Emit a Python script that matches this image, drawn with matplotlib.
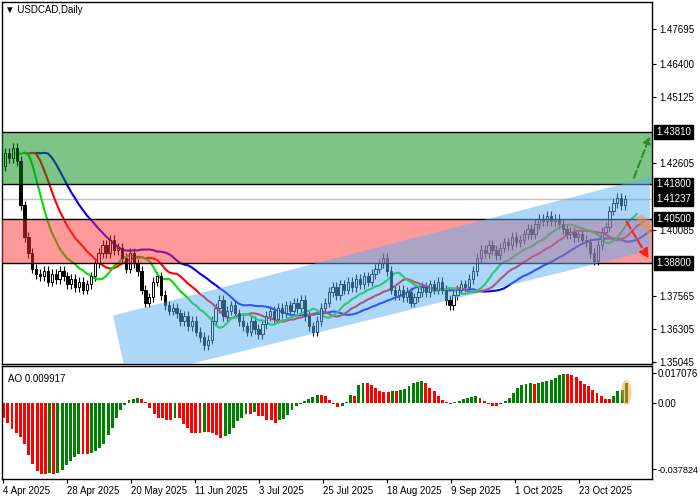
import numpy as np
import pandas as pd
import matplotlib
matplotlib.use("Agg")
import matplotlib.pyplot as plt
from matplotlib.patches import Polygon, Ellipse, Rectangle

plt.rcParams['font.family'] = ['Liberation Sans', 'DejaVu Sans']

closes = [1.430,1.428,1.432,1.427,1.410,
          1.398,1.392,1.386,1.384,
          1.383,1.385,1.381,1.384,1.382,1.385,
          1.383,1.380,1.382,1.379,1.381,1.378,
          1.380,1.383,1.388,1.392,
          1.395,1.392,1.397,1.393,1.394,1.390,
          1.386,1.392,1.388,1.385,1.378,
          1.373,1.375,1.381,1.383,
          1.376,1.372,1.370,1.371,1.369,1.366,
          1.368,1.364,1.366,1.362,1.360,
          1.357,1.359,1.366,
          1.371,1.374,1.368,1.370,1.372,
          1.369,1.366,1.364,1.362,1.366,1.363,
          1.361,1.365,1.368,1.370,1.367,1.371,
          1.369,1.372,1.370,1.373,1.371,1.374,
          1.368,1.364,1.362,1.366,
          1.371,1.373,1.377,1.379,1.376,1.380,
          1.378,1.381,1.379,1.382,1.380,1.383,
          1.381,1.384,1.386,1.388,
          1.390,1.385,1.378,1.376,
          1.378,1.375,1.377,1.373,1.375,1.377,
          1.379,1.377,1.380,1.378,1.381,1.378,
          1.374,1.372,1.376,1.378,1.380,
          1.379,1.382,1.385,1.390,1.393,
          1.392,1.395,1.393,1.391,1.394,1.396,
          1.395,1.398,1.396,1.397,1.399,
          1.401,1.399,1.403,1.405,1.404,
          1.406,1.404,1.405,1.403,1.401,
          1.399,1.400,1.398,1.399,1.397,
          1.396,1.392,1.389,1.395,
          1.400,1.402,1.408,1.411,
          1.413,1.410,1.41237]
first_open = 1.425
wick = 0.0018

ao_values = [-14.7,-20,-26,-30,-34,-41,-52,-61,-68,-71,-71,-70,-71,-70,-67,-62,-58,-54,-51,-51,
             -51,-50,-48,-45,-41,-32,-25,-15,-7,-2,3,4,5,4,1,-5,-11,-15,-15,-17,
             -17,-15,-15,-21,-25,-30,-30,-30,-29,-29,-30,-32,-35,-33,-31,-25,-18,-15,-11,-11,
             -9,-13,-13,-17,-17,-20,-17,-16,-12,-7,-3,-1,2,4,6,8,8,7,3,-1,
             -4,-3,1,8,7,18,20,20,18,15,12,11,11,12,12,13,14,17,20,21,
             22,20,15,12,7,3,1,-1,1,2,4,5,6,7,5,2,-1,-3,-3,-1,
             2,5,10,15,18,19,20,19,20,21,22,23,25,28,29,29,28,26,22,19,
             17,13,10,7,4,4,7,12,13,20]
ao_scale = 0.017076 / 30.0  # indicator units per reference pixel

levels_box = [1.43810, 1.41800, 1.41237, 1.40500, 1.38800]
plain_ticks = [1.47695, 1.46400, 1.45125, 1.42605, 1.40085, 1.37565, 1.36305, 1.35045]
date_labels = ["4 Apr 2025","28 Apr 2025","20 May 2025","11 Jun 2025","3 Jul 2025",
               "25 Jul 2025","18 Aug 2025","9 Sep 2025","1 Oct 2025","23 Oct 2025"]
date_idx = [-0.5, 15.9, 32.3, 48.7, 65.1, 81.5, 98.0, 114.4, 130.8, 147.2]

W, H = 700, 500
fig = plt.figure(figsize=(7, 5), dpi=100)
def ax_rect(x0, y0, x1, y1):
    return [x0 / W, 1 - y1 / H, (x1 - x0) / W, (y1 - y0) / H]
ax = fig.add_axes(ax_rect(2, 2, 652, 364))
ax2 = fig.add_axes(ax_rect(2, 366, 652, 479))
xlim = (-0.77, 165.9)

c = np.array(closes)
n = len(c)
o = np.concatenate([[first_open], c[:-1]])
hi = np.maximum(o, c) + wick
lo = np.minimum(o, c) - wick
idx = np.arange(n)
ax.vlines(idx, lo, hi, color="black", lw=0.8, zorder=2)
for i in range(n):
    up = c[i] >= o[i]
    bh = max(abs(c[i] - o[i]), 0.0003)
    ax.add_patch(Rectangle((i - 0.3, min(o[i], c[i])), 0.6, bh,
                           facecolor="white" if up else "black", edgecolor="black",
                           lw=0.7, zorder=2.5))

s = pd.Series(c)
for period, shift, col in [(13, 8, "#0000ff"), (8, 5, "#ff0000"), (5, 3, "#00e000")]:
    m = s.ewm(alpha=1 / period, adjust=False).mean().values
    ax.plot(idx + shift, m, color=col, lw=1.5, zorder=2.2)

ax.axhspan(1.4180, 1.4381, color="#008a10", alpha=0.5, lw=0, zorder=3)
ax.axhspan(1.3880, 1.4050, color="#ff3333", alpha=0.5, lw=0, zorder=3)
for lv in [1.4381, 1.4180, 1.4050, 1.3880]:
    ax.axhline(lv, color="black", lw=1, zorder=3.2)
ax.axhline(1.41237, color="#c0c0c0", lw=1, zorder=1)

ax.add_patch(Polygon([(27.7, 1.3681), (165.4, 1.4208), (165.4, 1.3929), (31.3, 1.3437)],
                     closed=True, facecolor="#5ab0f5", alpha=0.5, lw=0, zorder=4))

ax.annotate("", xy=(165.6, 1.4373), xytext=(161, 1.4195),
            arrowprops=dict(arrowstyle="-|>", color="#2e8b2e", lw=1.5, ls="--"), zorder=5)
ax.annotate("", xy=(165.4, 1.3889), xytext=(159, 1.4047),
            arrowprops=dict(arrowstyle="-|>", color="#ff2020", lw=1.5, ls="--",
                            mutation_scale=14), zorder=5)
ax.add_patch(Polygon([(161.5, 1.4055), (163.5, 1.4065), (167, 1.4000), (165, 1.3985)],
                     closed=True, facecolor="#ff8c40", alpha=0.5, lw=0, zorder=4.5))

ax.set_xlim(*xlim)
ax.set_ylim(1.3497, 1.4874)
ax.yaxis.tick_right()
ax.set_yticks(plain_ticks)
ax.set_yticklabels([f"{v:.5f}" for v in plain_ticks])
ax.set_xticks([])
ax.tick_params(axis="y", labelsize=7, length=3, pad=2, colors="black")
for v in levels_box:
    ax.text(1.006, v, f"{v:.5f}", transform=ax.get_yaxis_transform(), fontsize=7,
            color="white", va="center", ha="left",
            bbox=dict(boxstyle="square,pad=0.2", fc="black", ec="black"))
ax.text(0.005, 0.992, "▼ USDCAD,Daily", transform=ax.transAxes, fontsize=7, va="top")

ao = np.array(ao_values) * ao_scale
m = len(ao)
xs = np.linspace(-0.35, 159.3, m)
cols = ["#008000" if (k > 0 and ao[k] > ao[k - 1]) else "#ff0000" for k in range(m)]
ax2.bar(xs, ao, width=0.75, color=cols)
ax2.add_patch(Ellipse((xs[-1], ao[-1] / 2 + 0.0002), 2.6, abs(ao[-1]) + 0.003,
                      facecolor="#ff9a40", alpha=0.5, lw=0))
ax2.set_xlim(*xlim)
ax2.set_ylim(-0.0433, 0.0211)
ax2.yaxis.tick_right()
ax2.set_yticks([0.017076, 0.0, -0.0378])
ax2.set_yticklabels(["0.017076", "0.00", "-0.037824"])
ax2.tick_params(axis="y", labelsize=7, length=3, pad=1)
ax2.get_yticklabels()[2].set_fontsize(6.6)
ax2.set_xticks(date_idx)
ax2.set_xticklabels(date_labels, ha="left")
ax2.tick_params(axis="x", labelsize=7, length=3, pad=2)
ax2.text(0.01, 0.93, "AO 0.009917", transform=ax2.transAxes, fontsize=7, va="top")

for a in (ax, ax2):
    for sp in a.spines.values():
        sp.set_linewidth(1)
fig.savefig("out.png", dpi=100)
